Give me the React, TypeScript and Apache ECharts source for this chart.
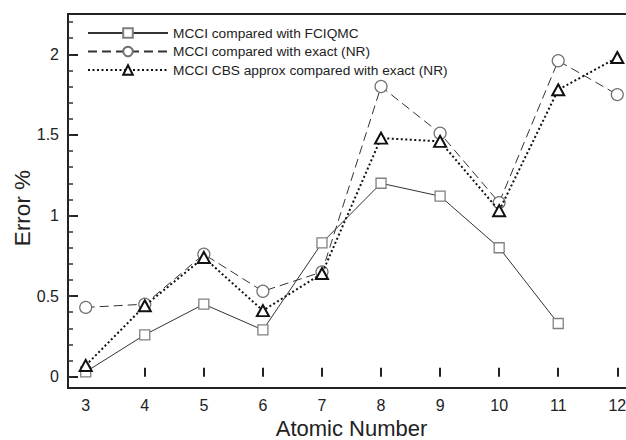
import React, { useEffect, useRef } from "react";
import * as echarts from "echarts";

const atomicNumbers = [3, 4, 5, 6, 7, 8, 9, 10, 11, 12];
const fciqmcError = [0.03, 0.26, 0.45, 0.29, 0.83, 1.2, 1.12, 0.8, 0.33];
const exactError = [0.43, 0.45, 0.76, 0.53, 0.65, 1.8, 1.51, 1.08, 1.96, 1.75];
const cbsError = [0.07, 0.44, 0.74, 0.41, 0.64, 1.48, 1.46, 1.03, 1.78, 1.98];
const seriesNames = [
  "MCCI compared with FCIQMC",
  "MCCI compared with exact (NR)",
  "MCCI CBS approx compared with exact (NR)",
];
const yMajorTicks = [0, 0.5, 1, 1.5, 2];
const xMajorTicks = [3, 4, 5, 6, 7, 8, 9, 10, 11, 12];
const xTitle = "Atomic Number";
const yTitle = "Error %";

const FONT = "Liberation Sans, Arial, Helvetica, sans-serif";

function pairs(vals: number[]) {
  return vals.map((v, i) => [atomicNumbers[i], v]);
}

export default function App() {
  const ref = useRef<HTMLDivElement>(null);
  useEffect(() => {
    if (!ref.current) return;
    const chart = echarts.init(ref.current, undefined, { renderer: "svg" });
    const yMinor: number[] = [];
    for (let k = 0; k <= 22; k++) yMinor.push(k / 10);
    const legendText = { fontSize: 13.7, color: "#222", fontFamily: FONT };
    const option: any = {
      animation: false,
      backgroundColor: "#fff",
      grid: {
        left: 68,
        width: 567,
        top: 14,
        bottom: 52,
        show: true,
        borderColor: "#222",
        borderWidth: 2,
        backgroundColor: "transparent",
        containLabel: false,
        outerBoundsMode: "none",
      },
      legend: {
        orient: "vertical",
        left: 87,
        top: 26,
        padding: 0,
        itemWidth: 80,
        itemHeight: 12,
        itemGap: 4.5,
        textStyle: legendText,
        data: seriesNames.map((n) => ({ name: n, textStyle: legendText })),
      },
      graphic: [
        {
          type: "text",
          x: 22,
          y: 208,
          rotation: Math.PI / 2,
          style: {
            text: yTitle,
            fontSize: 22.5,
            fontFamily: FONT,
            fill: "#222",
            align: "center",
            verticalAlign: "middle",
          },
        },
      ],
      xAxis: {
        type: "value",
        min: 2.7,
        max: 12.3,
        name: xTitle,
        nameLocation: "middle",
        nameGap: 27,
        nameTextStyle: { fontSize: 22, lineHeight: 22, color: "#222", fontFamily: FONT },
        axisLine: { show: false },
        axisTick: {
          show: true,
          inside: true,
          length: 9,
          lineStyle: { color: "#222", width: 2 },
          customValues: xMajorTicks,
        },
        axisLabel: {
          customValues: xMajorTicks,
          fontSize: 16,
          color: "#222",
          fontFamily: FONT,
          margin: 9,
        },
        splitLine: { show: false },
      },
      yAxis: [
        {
          type: "value",
          min: -0.07,
          max: 2.25,
          axisLine: { show: false },
          axisTick: {
            show: true,
            inside: true,
            length: 10,
            lineStyle: { color: "#222", width: 2 },
            customValues: yMajorTicks,
          },
          axisLabel: {
            customValues: yMajorTicks,
            fontSize: 16,
            color: "#222",
            fontFamily: FONT,
            margin: 9,
          },
          splitLine: { show: false },
        },
        {
          type: "value",
          min: -0.07,
          max: 2.25,
          position: "left",
          axisLine: { show: false },
          axisTick: {
            show: true,
            inside: true,
            length: 5,
            lineStyle: { color: "#333", width: 1.5 },
            customValues: yMinor,
          },
          axisLabel: { show: false },
          splitLine: { show: false },
        },
      ],
      series: [
        {
          name: seriesNames[0],
          type: "line",
          data: pairs(fciqmcError),
          symbol: "rect",
          symbolSize: 10,
          itemStyle: { color: "#fff", borderColor: "#808080", borderWidth: 1.3 },
          lineStyle: { color: "#333", width: 1, type: "solid" },
          z: 2,
        },
        {
          name: seriesNames[1],
          type: "line",
          data: pairs(exactError),
          symbol: "circle",
          symbolSize: 12,
          itemStyle: { color: "#fff", borderColor: "#707070", borderWidth: 1.2 },
          lineStyle: { color: "#333", width: 1, type: [9, 5] },
          z: 3,
        },
        {
          name: seriesNames[2],
          type: "line",
          data: pairs(cbsError),
          symbol: "triangle",
          symbolSize: [12, 11],
          itemStyle: { color: "#fff", borderColor: "#111", borderWidth: 2 },
          lineStyle: { color: "#111", width: 2, type: [2, 2.5] },
          z: 4,
        },
      ],
    };
    chart.setOption(option);
    return () => chart.dispose();
  }, []);
  return <div ref={ref} style={{ width: 626, height: 440, position: "absolute", left: 0, top: 0 }} />;
}
